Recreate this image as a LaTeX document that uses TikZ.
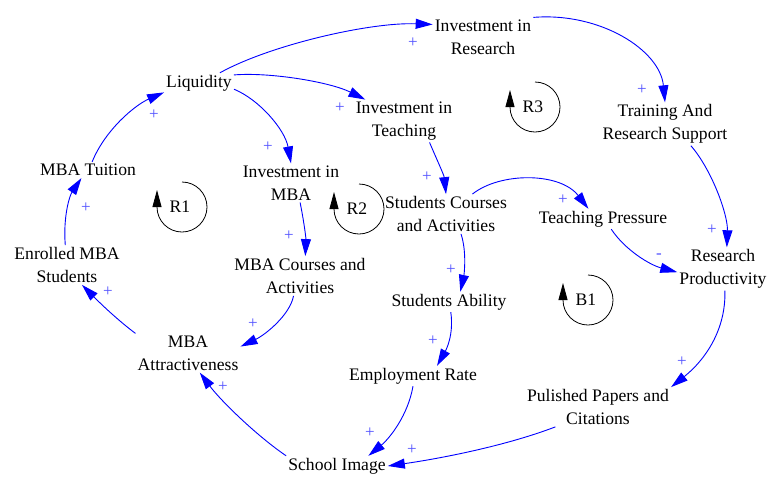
\documentclass[tikz,border=0pt]{standalone}
\usepackage{fontspec}
\setmainfont{Liberation Serif}
\usepackage{tikz}
\usetikzlibrary{arrows.meta}
\definecolor{linkblue}{RGB}{0,0,255}
\definecolor{polblue}{RGB}{80,80,255}

\begin{document}
\begin{tikzpicture}[x=1pt,y=-1pt,
  every node/.style={font=\fontsize{17.6}{23}\selectfont, align=center, inner sep=2pt},
  link/.style={draw=linkblue, line width=0.9pt, -{Triangle[length=17pt,width=10pt]}, fill=none},
  pol/.style={text=polblue, font=\fontsize{17}{17}\selectfont, inner sep=0pt},
  loopline/.style={draw=black, line width=0.8pt, -{Triangle[length=17pt,width=9pt]}}]
   \useasboundingbox (0,0) rectangle (768,477);
   \node (liq) at (199,83) {Liquidity};
   \node (ir) at (483,37) {Investment in\\Research};
   \node (it) at (404,121) {Investment in\\Teaching};
   \node (im) at (291,183) {Investment in\\MBA};
   \node (tui) at (88,170) {MBA Tuition};
   \node (tr) at (665,124) {Training And\\Research Support};
   \node (rp) at (723,269) {Research\\Productivity};
   \node (tp) at (603,219) {Teaching Pressure};
   \node (sc) at (446,214) {Students Courses\\and Activities};
   \node (sa) at (449,302) {Students Ability};
   \node (er) at (413,376) {Employment Rate};
   \node (si) at (337,466) {School Image};
   \node (pp) at (598,407) {Pulished Papers and\\Citations};
   \node (ma) at (188,353) {MBA\\Attractiveness};
   \node (mc) at (300,276) {MBA Courses and\\Activities};
   \node (en) at (67,265) {Enrolled MBA\\Students};
   \draw[link] (liq.26) .. controls (270,45) and (370,22) .. (ir.166);
   \draw[link] (ir.north east) .. controls (600,12) and (660,50) .. (tr.north);
   \draw[link] (tr.-40) .. controls (712,170) and (728,215) .. (rp.80);
   \draw[link] (rp.-85) .. controls (726,330) and (705,360) .. (pp.north east);
   \draw[link] (pp.-155) .. controls (500,448) and (430,460) .. (si.east);
   \draw[link] (er.south) .. controls (408,415) and (390,438) .. (si.18);
   \draw[link] (sa.-80) .. controls (454,335) and (446,350) .. (er.23);
   \draw[link] (sc.-53) .. controls (467,252) and (464,275) .. (sa.42);
   \draw[link] (it.-40) .. controls (437,160) and (444,175) .. (sc.north);
   \draw[link] (liq.13) .. controls (270,72) and (330,82) .. (it.151);
   \draw[link] (liq.-10) .. controls (260,100) and (285,130) .. (im.north);
   \draw[link] (im.-65) .. controls (304,222) and (306,238) .. (mc.75);
   \draw[link] (mc.-108) .. controls (290,315) and (265,335) .. (ma.7);
   \draw[link] (ma.north west) .. controls (115,318) and (97,300) .. (en.-53);
   \draw[link] (si.north west) .. controls (257,436) and (221,401) .. (ma.-59);
   \draw[link] (en.95) .. controls (63,215) and (70,195) .. (tui.-129);
   \draw[link] (tui.63) .. controls (105,130) and (135,105) .. (liq.-165);
   \draw[link] (sc.37) .. controls (500,172) and (560,172) .. (tp.145);
   \draw[link] (tp.-51) .. controls (625,250) and (650,265) .. (rp.-176);
   \node[pol] (p1) at (413,43) {+};
   \node[pol] (p2) at (642,90) {+};
   \node[pol] (p3) at (712,230) {+};
   \node[pol] (p4) at (682,362) {+};
   \node[pol] (p5) at (412,450) {+};
   \node[pol] (p6) at (370,433) {+};
   \node[pol] (p7) at (433,341) {+};
   \node[pol] (p8) at (451,270) {+};
   \node[pol] (p9) at (427,177) {+};
   \node[pol] (p10) at (340,108) {+};
   \node[pol] (p11) at (268,147) {+};
   \node[pol] (p12) at (289,236) {+};
   \node[pol] (p13) at (253,324) {+};
   \node[pol] (p14) at (108,292) {+};
   \node[pol] (p15) at (223,387) {+};
   \node[pol] (p16) at (86,208) {+};
   \node[pol] (p17) at (154,115) {+};
   \node[pol] (p18) at (563,200) {+};
   \node[pol] (p19) at (659,256) {-};
   \node (r1) at (180,207) {R1};
   \node (r2) at (357,209) {R2};
   \node (r3) at (533,107) {R3};
   \node (b1) at (586,300) {B1};
   \draw[loopline] (r1) ++(2,-25) arc[start angle=-90, end angle=180, radius=25] -- ++(0,-17);
   \draw[loopline] (r2) ++(2,-25) arc[start angle=-90, end angle=180, radius=25] -- ++(0,-17);
   \draw[loopline] (r3) ++(2,-25) arc[start angle=-90, end angle=180, radius=25] -- ++(0,-17);
   \draw[loopline] (b1) ++(2,-25) arc[start angle=-90, end angle=180, radius=25] -- ++(0,-17);
\end{tikzpicture}
\end{document}
